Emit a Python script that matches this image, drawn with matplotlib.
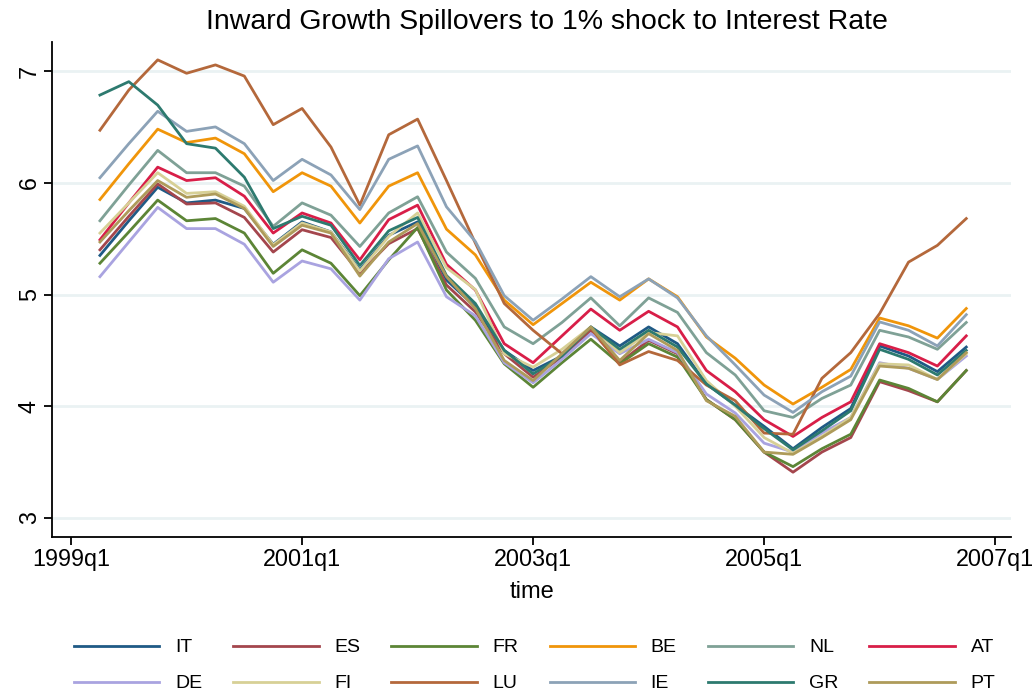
import matplotlib.pyplot as plt
import numpy as np

plt.rcParams['font.family'] = ['Liberation Sans', 'DejaVu Sans']

# zaman: 1999q2 ... 2006q4 (ceyrek indeksi, 1999q1 = 0)
zaman = np.arange(1, 32)
tick_yer = [0, 8, 16, 24, 32]
tick_etiket = ["1999q1", "2001q1", "2003q1", "2005q1", "2007q1"]

IT = [5.35, 5.66, 5.96, 5.82, 5.845, 5.77, 5.45, 5.65, 5.56, 5.22, 5.53, 5.65, 5.13, 4.89, 4.50, 4.32,
      4.45, 4.71, 4.54, 4.71, 4.56, 4.20, 4.01, 3.82, 3.62, 3.81, 3.98, 4.54, 4.45, 4.31, 4.53]
ES = [5.40, 5.70, 5.99, 5.81, 5.82, 5.69, 5.38, 5.58, 5.51, 5.19, 5.455, 5.59, 5.085, 4.845, 4.47, 4.26,
      4.44, 4.68, 4.39, 4.59, 4.47, 4.06, 3.88, 3.59, 3.41, 3.59, 3.72, 4.22, 4.14, 4.04, 4.32]
FR = [5.28, 5.56, 5.845, 5.66, 5.68, 5.55, 5.19, 5.40, 5.28, 4.99, 5.31, 5.60, 5.04, 4.77, 4.38, 4.17,
      4.39, 4.60, 4.38, 4.56, 4.44, 4.06, 3.88, 3.59, 3.46, 3.62, 3.75, 4.235, 4.16, 4.04, 4.32]
BE = [5.85, 6.17, 6.48, 6.36, 6.40, 6.26, 5.92, 6.09, 5.97, 5.64, 5.97, 6.09, 5.585, 5.355, 4.95, 4.73,
      4.92, 5.11, 4.95, 5.14, 4.98, 4.62, 4.43, 4.19, 4.02, 4.17, 4.33, 4.79, 4.72, 4.61, 4.875]
NL = [5.66, 5.98, 6.29, 6.09, 6.09, 5.97, 5.61, 5.82, 5.71, 5.43, 5.73, 5.875, 5.38, 5.145, 4.71, 4.56,
      4.75, 4.97, 4.72, 4.97, 4.84, 4.48, 4.28, 3.96, 3.90, 4.07, 4.19, 4.68, 4.62, 4.51, 4.75]
AT = [5.49, 5.82, 6.14, 6.02, 6.045, 5.88, 5.55, 5.73, 5.64, 5.31, 5.67, 5.80, 5.27, 5.04, 4.56, 4.39,
      4.63, 4.87, 4.68, 4.85, 4.71, 4.32, 4.13, 3.88, 3.73, 3.90, 4.04, 4.56, 4.48, 4.36, 4.63]
DE = [5.16, 5.47, 5.78, 5.59, 5.59, 5.45, 5.11, 5.30, 5.23, 4.95, 5.32, 5.47, 4.98, 4.81, 4.39, 4.21,
      4.42, 4.65, 4.47, 4.60, 4.48, 4.11, 3.94, 3.67, 3.59, 3.76, 3.90, 4.39, 4.34, 4.24, 4.45]
FI = [5.55, 5.82, 6.09, 5.905, 5.92, 5.79, 5.445, 5.64, 5.56, 5.21, 5.52, 5.73, 5.24, 5.045, 4.47, 4.35,
      4.51, 4.71, 4.48, 4.66, 4.63, 4.23, 4.00, 3.72, 3.58, 3.73, 3.90, 4.38, 4.37, 4.24, 4.47]
LU = [6.47, 6.83, 7.10, 6.98, 7.055, 6.955, 6.52, 6.665, 6.32, 5.80, 6.43, 6.57, 6.02, 5.46, 4.92, 4.68,
      4.47, 4.70, 4.37, 4.49, 4.41, 4.19, 4.05, 3.76, 3.75, 4.25, 4.48, 4.83, 5.29, 5.44, 5.68]
IE = [6.045, 6.35, 6.64, 6.46, 6.50, 6.35, 6.02, 6.21, 6.07, 5.76, 6.21, 6.33, 5.785, 5.475, 4.99, 4.77,
      4.96, 5.16, 4.98, 5.14, 4.97, 4.63, 4.37, 4.10, 3.945, 4.13, 4.27, 4.755, 4.68, 4.54, 4.82]
GR = [6.785, 6.905, 6.695, 6.35, 6.31, 6.05, 5.59, 5.70, 5.62, 5.26, 5.57, 5.69, 5.17, 4.92, 4.50, 4.29,
      4.45, 4.71, 4.51, 4.68, 4.53, 4.20, 4.01, 3.80, 3.61, 3.78, 3.96, 4.51, 4.42, 4.28, 4.50]
PT = [5.47, 5.75, 6.02, 5.87, 5.90, 5.77, 5.43, 5.62, 5.55, 5.165, 5.47, 5.635, 5.16, 4.875, 4.41, 4.23,
      4.47, 4.71, 4.41, 4.65, 4.50, 4.05, 3.91, 3.59, 3.57, 3.72, 3.88, 4.36, 4.34, 4.24, 4.48]

ulkeler = ["IT", "ES", "FR", "BE", "NL", "AT", "DE", "FI", "LU", "IE", "GR", "PT"]
seriler = [IT, ES, FR, BE, NL, AT, DE, FI, LU, IE, GR, PT]
renkler = ["#1f5a85", "#a4464d", "#5c8536", "#f0950a", "#7fa196", "#d81e48",
           "#a9a3e0", "#d7d096", "#b4683b", "#8ca2b7", "#2d7a6f", "#ae9b5a"]

fig = plt.figure(figsize=(10.36, 6.94), dpi=100)
ax = fig.add_axes([0.0502, 0.2262, 0.9257, 0.7133])

# arka plan yatay cizgiler
for yy in [3, 4, 5, 6, 7]:
    ax.axhline(yy, color="#eaf2f3", lw=2, zorder=0)

cizgiler = {}
for ad, seri, renk in zip(ulkeler, seriler, renkler):
    cizgiler[ad], = ax.plot(zaman, seri, color=renk, lw=2.0, label=ad)

ax.set_xlim(-0.66, 32.55)
ax.set_ylim(2.83, 7.26)
ax.set_xticks(tick_yer)
ax.set_xticklabels(tick_etiket)
ax.set_yticks([3, 4, 5, 6, 7])
ax.set_yticklabels(["3", "4", "5", "6", "7"], rotation=90, va="center")
ax.tick_params(labelsize=16.8, length=6, width=1.3, pad=2)
for s in ["top", "right"]:
    ax.spines[s].set_visible(False)
for s in ["left", "bottom"]:
    ax.spines[s].set_linewidth(1.3)

ax.set_xlabel("time", fontsize=17, labelpad=7)
ax.set_title("Inward Growth Spillovers to 1% shock to Interest Rate", fontsize=20.5, pad=9, x=0.516)

# legend: 2 satir, 6 sutun (sutun sirasina gore dolduruluyor)
sira = ["IT", "DE", "ES", "FI", "FR", "LU", "BE", "IE", "NL", "GR", "AT", "PT"]
fig.legend([cizgiler[k] for k in sira], sira, loc="center", bbox_to_anchor=(0.516, 0.041),
           ncol=6, frameon=False, fontsize=14, handlelength=4.4, handletextpad=0.8,
           columnspacing=1.6, labelspacing=0.95)

fig.savefig("out.png", dpi=100)
